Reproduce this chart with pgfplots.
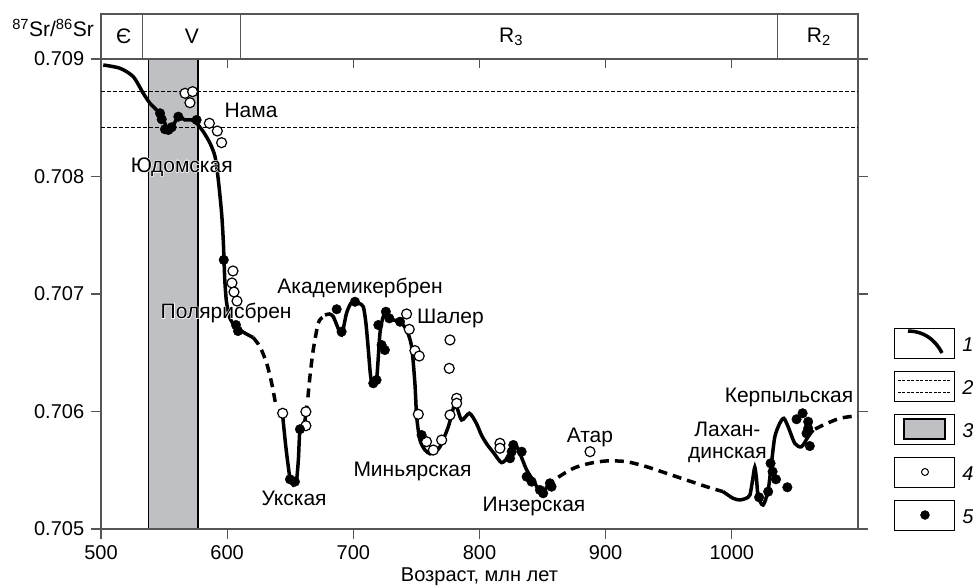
\documentclass[border=0pt]{standalone}
\usepackage{fontspec}
\setmainfont{Liberation Sans}
\newfontface\halofont[FakeBold=6]{Liberation Sans}
\usepackage{pgfplots}
\pgfplotsset{compat=1.18}
\definecolor{bandgray}{RGB}{190,192,196}
\definecolor{axgray}{RGB}{85,85,85}
\newcommand{\fs}{\fontsize{20}{24}\selectfont}
\newcommand{\fa}{\fontsize{21}{25}\selectfont}
\newcommand{\halo}[1]{\makebox[0pt][l]{\color{white}\halofont #1}#1}
\begin{document}
\fs
\begin{tikzpicture}
\useasboundingbox (-101pt,-59pt) rectangle (872pt,529pt);
\begin{axis}[
 at={(0pt,0pt)}, anchor=south west,
 scale only axis, width=757pt, height=470pt,
 xmin=500, xmax=1100, ymin=0.705, ymax=0.709,
 clip=false,
 axis line style={axgray, line width=1.2pt},
 tick style={axgray, line width=1.2pt},
 major tick length=10pt,
 tick align=outside,
 xtick pos=left, ytick pos=both, yticklabel pos=left,
 xtick={500,600,700,800,900,1000},
 xticklabels={500,600,700,800,900,1000},
 ytick={0.705,0.706,0.707,0.708,0.709},
 yticklabels={0.705,0.706,0.707,0.708,0.709},
 ticklabel style={font=\fs},
 /pgf/number format/assume math mode=true,
 xlabel={Возраст, млн лет},
 xlabel style={at={(axis description cs:0.5,0)}, anchor=center, yshift=-48pt, font=\fs},
 legend style={at={(axis description cs:1.0482,0.4287)}, anchor=north west, draw=none, fill=none,
   inner sep=0pt, outer sep=0pt, row sep=12pt, column sep=7pt,
   nodes={inner sep=0pt, outer sep=0pt, font=\fs\itshape}},
 legend cell align=left,
]
% band
\addplot[forget plot, fill=bandgray, draw=black, line width=1.6pt] coordinates {(537.5,0.705) (537.5,0.709) (577,0.709) (577,0.705)} -- cycle;
% horizontal dashed lines
\addplot[forget plot, black, line width=1pt, dash pattern=on 4pt off 2pt] coordinates {(500,0.70872) (1100,0.70872)};
\addplot[forget plot, black, line width=1pt, dash pattern=on 4pt off 2pt] coordinates {(500,0.70842) (1100,0.70842)};
% solid curve segments
\addplot[forget plot, black, line width=3.5pt, smooth, tension=0.45] coordinates {
(501.8,0.708949) (515.1,0.708921) (525.6,0.708849) (533.5,0.708708) (538.8,0.708623) (544.1,0.708566)
(548.1,0.708509) (550.7,0.708453) (552.5,0.708400) (556,0.708410) (561.3,0.708509) (566.6,0.708481)
(571.9,0.708481) (575.8,0.708453) (581.1,0.708381) (586.4,0.708283) (590.4,0.708169) (593,0.707970)
(595.6,0.707687) (596.9,0.707460) (597.5,0.70729) (598.2,0.70710) (599.5,0.70693) (602,0.70680)
(606,0.70673) (612,0.70668) (620.5,0.70663)};
\addplot[forget plot, black, line width=3.5pt, dash pattern=on 9pt off 6pt, smooth] coordinates {
(620.5,0.70663) (626,0.706551) (631.3,0.70641) (635.3,0.70624) (638.8,0.70604)};
\addplot[forget plot, black, line width=3.5pt, smooth, tension=0.4] coordinates {
(643.8,0.705985) (646.5,0.70570) (649.8,0.70543) (652.4,0.705374) (655,0.705417) (656.5,0.70560)
(657.7,0.705843) (661.2,0.70590) (663.2,0.70605)};
\addplot[forget plot, black, line width=3.5pt, dash pattern=on 9pt off 6pt, smooth] coordinates {
(664,0.70612) (665.6,0.706296) (668.2,0.706523) (672.2,0.706751) (675.5,0.706800)};
\addplot[forget plot, black, line width=3.5pt, smooth, tension=0.45] coordinates {
(677.5,0.706821) (681,0.706830) (684.1,0.706807) (687.5,0.70672) (690.7,0.706651) (694.6,0.706836)
(698,0.70692) (701.3,0.706934) (704.5,0.70692) (707.9,0.706892) (710,0.70675) (711.9,0.706523)
(713.5,0.70632) (715.2,0.706226) (718.4,0.706268) (721.1,0.706666) (723.7,0.706807) (726.4,0.706836)
(731.7,0.706779) (737,0.706764) (742.2,0.706694) (746.2,0.706552) (748.8,0.70624) (750.2,0.705956)
(752.8,0.705757) (756.8,0.705672) (760.8,0.70564) (763.4,0.705644) (768.7,0.7057) (775.3,0.705871)
(780.6,0.70606) (785.8,0.705928) (792,0.705985) (797.5,0.70590) (801.5,0.70580) (806,0.70572)
(811.5,0.705644) (817.5,0.705565) (822.8,0.705615) (828.1,0.705715) (832,0.705644) (837.4,0.705502)
(844,0.705389) (849.2,0.705289) (853.2,0.70536)};
\addplot[forget plot, black, line width=3.5pt, dash pattern=on 9pt off 6pt, smooth] coordinates {
(853.2,0.70536) (861.1,0.705431) (874.3,0.705516) (887.5,0.705559) (900.7,0.705579) (916.5,0.705573)
(932.4,0.70553) (948.2,0.705474) (964,0.705417) (979.9,0.70536) (993.1,0.705318)};
\addplot[forget plot, black, line width=3.5pt, smooth, tension=0.45] coordinates {
(993.1,0.705318) (1001,0.705261) (1006.3,0.705247) (1011,0.70526) (1014.3,0.705289) (1016.5,0.70542)
(1018.2,0.705525) (1019.6,0.70542) (1020.9,0.705275) (1024.8,0.705204) (1028.8,0.705332)
(1031.4,0.705559) (1034.1,0.705786) (1038,0.7059) (1041.2,0.705942) (1044.6,0.705871) (1049.9,0.705729)
(1055.2,0.7057) (1060.5,0.705786) (1064.5,0.705843)};
\addplot[forget plot, black, line width=3.5pt, dash pattern=on 9pt off 6pt, smooth] coordinates {
(1066,0.70585) (1072.5,0.705885) (1085.7,0.705942) (1099.8,0.705964)};
% open circles
\addplot[forget plot, only marks, mark=*, mark size=5pt, mark options={fill=white, draw=black, line width=1.2pt}] coordinates {
(566.6,0.708708) (572.6,0.708722) (570.5,0.708628) (585.9,0.708453) (592.2,0.708387) (595.6,0.708288)
(604.6,0.707196) (603.8,0.707094) (605.4,0.707017) (607.8,0.70694)
(644,0.705985) (662.4,0.705998) (662.4,0.705879)
(742.2,0.70683) (744.3,0.706699) (748.8,0.706518) (752.2,0.706472) (776.6,0.706609) (776,0.706367)
(781.9,0.706112) (781.9,0.70607) (776.6,0.70597) (751.5,0.705976) (758,0.705743) (763.4,0.705672)
(770,0.705757) (816.2,0.705729) (816.2,0.705687)
(887.6,0.705658)};
% black dots
\addplot[forget plot, only marks, mark=*, mark size=4.8pt, mark options={fill=black, draw=black}] coordinates {
(546.8,0.708538) (548.1,0.708487) (550.7,0.708402) (553.4,0.708396) (556,0.708419) (561.3,0.708509) (575.8,0.708481)
(597.3,0.70729) (607,0.706736) (608.6,0.706685)
(649.8,0.705423) (653.7,0.705403) (657.7,0.705849)
(686.8,0.70687) (690.7,0.706679) (701.3,0.706934) (715.8,0.70624) (718.4,0.706268) (719.8,0.706736)
(722.4,0.706566) (725,0.706523) (725.8,0.706849) (728.5,0.706793) (737,0.706764)
(754.1,0.7058)
(826.8,0.705715) (825.5,0.705658) (824.2,0.705602) (833.4,0.705658) (837.4,0.705445) (841.3,0.705403)
(847.9,0.705332) (850.5,0.705304) (855.8,0.705389) (857.1,0.70536)
(1021.6,0.70527) (1028.8,0.705318) (1030.7,0.705559) (1032.3,0.705488) (1035,0.705423) (1044,0.705355)
(1056.1,0.705985) (1051.3,0.705934) (1060.5,0.705913) (1060.5,0.705857) (1059.2,0.705814) (1061.8,0.705706)};
% era box
\draw[axgray, line width=1.2pt] (axis cs:500,0.709) rectangle (axis cs:1100,0.709383);
\draw[axgray, line width=1.2pt] (axis cs:533,0.709) -- (axis cs:533,0.709383);
\draw[axgray, line width=1.2pt] (axis cs:610.7,0.709) -- (axis cs:610.7,0.709383);
\draw[axgray, line width=1.2pt] (axis cs:1036,0.709) -- (axis cs:1036,0.709383);
\node[font=\fa] at (axis cs:518,0.709191) {Є};
\node[font=\fa] at (axis cs:572,0.709191) {V};
\node[font=\fa] at (axis cs:825,0.709191) {R\textsubscript{3}};
\node[font=\fa] at (axis cs:1069,0.709191) {R\textsubscript{2}};
\node[font=\fa] at (axis cs:462,0.709264) {\textsuperscript{87}Sr/\textsuperscript{86}Sr};
% annotations
\node[font=\fa, inner sep=0pt, anchor=base] at (axis cs:618.9,0.708498) {Нама};
\node[font=\fa, inner sep=0pt, anchor=base] at (axis cs:564,0.708038) {\halo{Юдомская}};
\node[font=\fa, inner sep=0pt, anchor=base east] at (axis cs:651.2,0.706793) {\halo{Полярисбрен}};
\node[font=\fa, inner sep=0pt, anchor=base] at (axis cs:705.3,0.707006) {Академикербрен};
\node[font=\fa, inner sep=0pt, anchor=base] at (axis cs:777,0.706751) {Шалер};
\node[font=\fa, inner sep=0pt, anchor=base] at (axis cs:653,0.705204) {Укская};
\node[font=\fa, inner sep=0pt, anchor=base] at (axis cs:746.9,0.705445) {Миньярская};
\node[font=\fa, inner sep=0pt, anchor=base] at (axis cs:843.2,0.705147) {Инзерская};
\node[font=\fa, inner sep=0pt, anchor=base] at (axis cs:887.5,0.705734) {Атар};
\node[font=\fa, inner sep=0pt, anchor=base] at (axis cs:996.5,0.705783) {Лахан-};
\node[font=\fa, inner sep=0pt, anchor=base] at (axis cs:996.5,0.705600) {динская};
\node[font=\fa, inner sep=0pt, anchor=base] at (axis cs:1045.3,0.706075) {Керпыльская};
% legend
\addlegendimage{legend image code/.code={
  \draw[black, line width=1pt] (0pt,-15pt) rectangle (60pt,15pt);
  \draw[black, line width=3.5pt] (13pt,12pt) .. controls (28pt,12pt) and (40pt,4pt) .. (47pt,-10pt);}}
\addlegendentry{\raisebox{-7pt}{1}}
\addlegendimage{legend image code/.code={
  \draw[black, line width=1pt] (0pt,-15pt) rectangle (60pt,15pt);
  \draw[black, line width=1pt, dash pattern=on 3pt off 1.5pt] (3pt,6pt) -- (57pt,6pt);
  \draw[black, line width=1pt, dash pattern=on 3pt off 1.5pt] (3pt,-6.5pt) -- (57pt,-6.5pt);}}
\addlegendentry{\raisebox{-7pt}{2}}
\addlegendimage{legend image code/.code={
  \draw[black, line width=1pt] (0pt,-15pt) rectangle (60pt,15pt);
  \draw[black, fill=bandgray, line width=2pt] (9.5pt,-10pt) rectangle (50.5pt,10pt);}}
\addlegendentry{\raisebox{-7pt}{3}}
\addlegendimage{legend image code/.code={
  \draw[black, line width=1pt] (0pt,-15pt) rectangle (60pt,15pt);
  \draw[black, fill=white, line width=1pt] (30pt,0pt) circle (3.5pt);}}
\addlegendentry{\raisebox{-7pt}{4}}
\addlegendimage{legend image code/.code={
  \draw[black, line width=1pt] (0pt,-15pt) rectangle (60pt,15pt);
  \fill[black] (30pt,0pt) circle (4.5pt);}}
\addlegendentry{\raisebox{-7pt}{5}}
\end{axis}
\begin{axis}[
 at={(0pt,0pt)}, anchor=south west,
 scale only axis, width=757pt, height=470pt,
 xmin=500, xmax=1100, ymin=0.705, ymax=0.709,
 hide y axis,
 axis line style={axgray, line width=1.2pt},
 tick style={axgray, line width=1.2pt},
 xtick pos=right, tick align=inside, major tick length=9pt,
 xtick={600,700,800,900,1000}, xticklabels={},
]
\addplot[draw=none] coordinates {(600,0.707)};
\end{axis}
\end{tikzpicture}
\end{document}
